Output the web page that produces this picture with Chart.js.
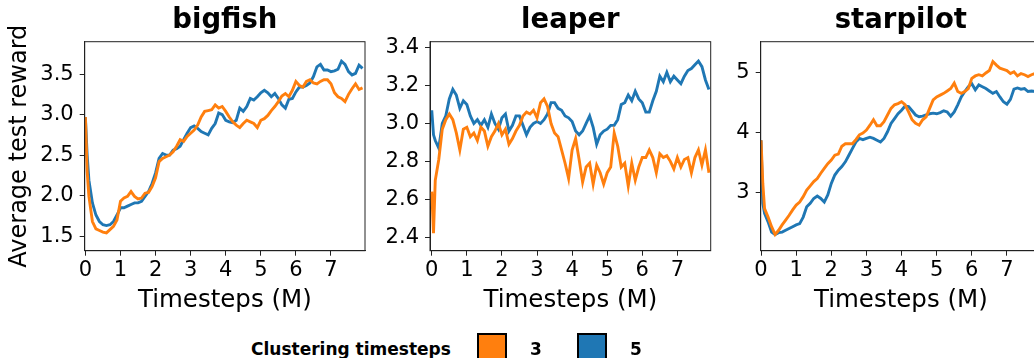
<!DOCTYPE html>
<html>
<head>
<meta charset="utf-8">
<script src="https://cdn.jsdelivr.net/npm/chart.js@4/dist/chart.umd.min.js"></script>
<style>
  html, body { margin: 0; padding: 0; background: #fff; }
  body { width: 1034px; height: 358px; overflow: hidden; position: relative; font-family: 'DejaVu Sans', sans-serif; }
  canvas { position: absolute; top: 0; }
  .legend-title { position: absolute; left: 251px; top: 341px; font-weight: bold; font-size: 17px; line-height: 17px; color: #000; white-space: nowrap; }
  .legend-box { position: absolute; top: 333px; width: 26px; height: 30px; border: 2px solid #000; }
  .legend-label { position: absolute; top: 341px; font-weight: bold; font-size: 17px; line-height: 17px; color: #000; }
</style>
</head>
<body>
<canvas id="bigfish" width="372" height="320" style="left:0px"></canvas>
<canvas id="leaper" width="348" height="320" style="left:370px"></canvas>
<canvas id="starpilot" width="348" height="320" style="left:700px"></canvas>
<div class="legend-title">Clustering timesteps</div>
<div class="legend-box" id="box3" style="left:477px"></div>
<div class="legend-label" style="left:530px">3</div>
<div class="legend-box" id="box5" style="left:577px"></div>
<div class="legend-label" style="left:630px">5</div>

<script>
// Timesteps (M) at which each run was sampled
const steps = [0, 0.05, 0.1, 0.2, 0.3, 0.4, 0.5, 0.6, 0.7, 0.8, 0.9,
  1.0, 1.1, 1.2, 1.3, 1.4, 1.5, 1.6, 1.7, 1.8, 1.9,
  2.0, 2.1, 2.2, 2.3, 2.4, 2.5, 2.6, 2.7, 2.8, 2.9,
  3.0, 3.1, 3.2, 3.3, 3.4, 3.5, 3.6, 3.7, 3.8, 3.9,
  4.0, 4.1, 4.2, 4.3, 4.4, 4.5, 4.6, 4.7, 4.8, 4.9,
  5.0, 5.1, 5.2, 5.3, 5.4, 5.5, 5.6, 5.7, 5.8, 5.9,
  6.0, 6.1, 6.2, 6.3, 6.4, 6.5, 6.6, 6.7, 6.8, 6.9,
  7.0, 7.1, 7.2, 7.3, 7.4, 7.5, 7.6, 7.7, 7.8, 7.9];

const clusterSettings = ['3', '5'];
const seriesColors = ['#ff7f0e', '#1f77b4'];

// bigfish
const bigfish3 = [2.97, 2.30, 1.99, 1.68, 1.59, 1.57, 1.55, 1.54, 1.58, 1.62, 1.70,
  1.93, 1.97, 1.99, 2.05, 1.99, 1.96, 1.97, 2.03, 2.04, 2.11,
  2.22, 2.42, 2.46, 2.48, 2.50, 2.54, 2.61, 2.69, 2.67, 2.73,
  2.77, 2.81, 2.87, 2.97, 3.04, 3.05, 3.06, 3.12, 3.08, 3.10,
  3.04, 2.97, 2.91, 2.87, 2.84, 2.89, 2.93, 2.91, 2.89, 2.84,
  2.93, 2.95, 2.99, 3.05, 3.10, 3.16, 3.23, 3.26, 3.22, 3.30,
  3.41, 3.36, 3.34, 3.41, 3.43, 3.39, 3.38, 3.41, 3.43, 3.43,
  3.38, 3.27, 3.22, 3.20, 3.16, 3.25, 3.32, 3.38, 3.31, 3.33];
const bigfish5 = [2.97, 2.50, 2.19, 1.91, 1.76, 1.68, 1.64, 1.63, 1.64, 1.68, 1.76,
  1.85, 1.85, 1.87, 1.89, 1.91, 1.91, 1.93, 1.99, 2.05, 2.15,
  2.28, 2.46, 2.52, 2.50, 2.50, 2.56, 2.58, 2.61, 2.69, 2.77,
  2.84, 2.86, 2.83, 2.79, 2.77, 2.75, 2.83, 2.89, 3.02, 3.00,
  2.93, 2.91, 2.90, 2.93, 3.08, 3.04, 3.10, 3.20, 3.18, 3.22,
  3.27, 3.30, 3.27, 3.22, 3.26, 3.20, 3.12, 3.08, 3.19, 3.20,
  3.28, 3.34, 3.34, 3.36, 3.39, 3.47, 3.59, 3.62, 3.55, 3.55,
  3.53, 3.54, 3.56, 3.66, 3.62, 3.53, 3.49, 3.51, 3.61, 3.57];

// leaper
const leaper3 = [2.64, 2.42, 2.70, 2.81, 2.97, 3.02, 3.05, 3.02, 2.95, 2.86, 2.97,
  2.98, 2.93, 2.95, 2.91, 2.98, 2.96, 2.88, 2.93, 2.96, 3.00,
  2.94, 2.97, 2.89, 2.92, 2.96, 2.99, 3.04, 3.06, 3.05, 3.07,
  3.03, 3.11, 3.13, 3.09, 3.00, 2.95, 2.93, 2.86, 2.79, 2.71,
  2.86, 2.92, 2.81, 2.69, 2.77, 2.79, 2.68, 2.78, 2.74, 2.68,
  2.74, 2.77, 2.95, 2.88, 2.77, 2.79, 2.67, 2.79, 2.70, 2.77,
  2.82, 2.82, 2.86, 2.82, 2.74, 2.84, 2.82, 2.83, 2.80, 2.76,
  2.82, 2.77, 2.81, 2.82, 2.74, 2.82, 2.86, 2.78, 2.86, 2.74];
const leaper5 = [3.07, 2.94, 2.91, 2.87, 3.00, 3.04, 3.13, 3.18, 3.15, 3.08, 3.12,
  3.10, 3.04, 3.00, 3.02, 2.99, 3.02, 2.98, 3.05, 3.00, 2.97,
  3.03, 3.05, 2.96, 2.99, 3.04, 3.04, 2.99, 2.94, 2.98, 3.00,
  3.01, 3.00, 3.02, 3.05, 3.11, 3.11, 3.08, 3.07, 3.04, 3.03,
  3.01, 2.96, 2.94, 2.96, 3.00, 3.04, 2.98, 2.89, 2.94, 2.96,
  2.97, 2.99, 2.99, 3.02, 3.10, 3.11, 3.15, 3.12, 3.17, 3.13,
  3.11, 3.06, 3.06, 3.12, 3.17, 3.25, 3.22, 3.27, 3.22, 3.25,
  3.23, 3.21, 3.25, 3.28, 3.29, 3.31, 3.33, 3.30, 3.23, 3.18];

// starpilot
const starpilot3 = [3.87, 3.15, 2.73, 2.59, 2.43, 2.30, 2.37, 2.46, 2.54, 2.62, 2.71,
  2.79, 2.84, 2.93, 3.04, 3.11, 3.18, 3.23, 3.32, 3.40, 3.48,
  3.54, 3.62, 3.64, 3.77, 3.81, 3.81, 3.81, 3.88, 3.96, 3.99,
  4.04, 4.12, 4.21, 4.11, 4.11, 4.18, 4.29, 4.40, 4.46, 4.48,
  4.51, 4.46, 4.34, 4.21, 4.15, 4.12, 4.21, 4.26, 4.40, 4.54,
  4.59, 4.62, 4.65, 4.69, 4.73, 4.82, 4.68, 4.65, 4.68, 4.73,
  4.90, 4.94, 4.96, 4.94, 4.99, 5.03, 5.18, 5.12, 5.07, 5.05,
  5.03, 4.98, 5.01, 4.94, 4.98, 4.96, 4.93, 4.96, 4.98, 4.98];
const starpilot5 = [3.87, 2.82, 2.65, 2.51, 2.34, 2.30, 2.33, 2.34, 2.37, 2.40, 2.43,
  2.46, 2.48, 2.59, 2.76, 2.82, 2.90, 2.94, 2.90, 2.84, 2.96,
  3.15, 3.29, 3.37, 3.43, 3.51, 3.62, 3.73, 3.84, 3.90, 3.88,
  3.90, 3.92, 3.90, 3.87, 3.84, 3.90, 4.01, 4.15, 4.23, 4.31,
  4.37, 4.44, 4.43, 4.36, 4.29, 4.26, 4.27, 4.29, 4.31, 4.32,
  4.31, 4.33, 4.36, 4.34, 4.27, 4.34, 4.46, 4.59, 4.68, 4.76,
  4.81, 4.71, 4.79, 4.76, 4.73, 4.69, 4.65, 4.68, 4.59, 4.51,
  4.47, 4.55, 4.72, 4.74, 4.72, 4.73, 4.68, 4.69, 4.68, 4.68];

const xTicks = [0, 1, 2, 3, 4, 5, 6, 7];
const bigfishYTicks = [1.5, 2.0, 2.5, 3.0, 3.5];
const leaperYTicks = [2.4, 2.6, 2.8, 3.0, 3.2, 3.4];
const starpilotYTicks = [3, 4, 5];

const FONT = "'DejaVu Sans', sans-serif";
const INK = '#222';

// draw top/right spines too (matplotlib style box)
const framePlugin = {
  id: 'frame',
  afterDatasetsDraw(chart) {
    const { ctx, chartArea: a } = chart;
    ctx.save();
    ctx.strokeStyle = INK;
    ctx.lineWidth = 1;
    ctx.strokeRect(a.left, a.top, a.right - a.left, a.bottom - a.top);
    ctx.restore();
  }
};

const toPoints = vals => steps.map((x, i) => ({ x: x, y: vals[i] }));

function makePanel(id, opts) {
  const datasets = opts.series.map((vals, i) => ({
    label: clusterSettings[i],
    data: toPoints(vals),
    borderColor: seriesColors[i],
    borderWidth: 2.9,
    pointRadius: 0,
    tension: 0,
    clip: 0
  }));

  return new Chart(document.getElementById(id), {
    type: 'line',
    data: { datasets },
    plugins: [framePlugin],
    options: {
      responsive: false,
      animation: false,
      events: [],
      layout: { padding: { left: 0, right: opts.padRight, top: 0, bottom: 0 } },
      plugins: {
        legend: { display: false },
        tooltip: { enabled: false },
        title: {
          display: true,
          text: opts.title,
          fullSize: false,
          color: '#000',
          font: { family: FONT, size: 27.5, weight: 'bold' },
          padding: { top: 4.2, bottom: 4.5 }
        }
      },
      scales: {
        x: {
          type: 'linear',
          min: opts.xMin,
          max: opts.xMax,
          afterFit: s => { s.height = 69.3; },
          afterBuildTicks: s => { s.ticks = xTicks.map(v => ({ value: v })); },
          ticks: {
            color: '#000',
            font: { family: FONT, size: 21 },
            padding: 2,
            maxRotation: 0,
            autoSkip: false,
            callback: v => String(v)
          },
          grid: { display: true, drawOnChartArea: false, drawTicks: true, tickLength: 5, tickColor: INK },
          border: { display: true, color: INK, width: 1 },
          title: {
            display: true,
            text: 'Timesteps (M)',
            color: '#000',
            font: { family: FONT, size: 24.5 },
            padding: { top: 0, bottom: 5 }
          }
        },
        y: {
          type: 'linear',
          min: opts.yMin,
          max: opts.yMax,
          afterFit: s => { s.width = opts.yWidth; },
          afterBuildTicks: s => { s.ticks = opts.yTicks.map(v => ({ value: v })); },
          ticks: {
            color: '#000',
            font: { family: FONT, size: 21 },
            padding: 6,
            autoSkip: false,
            callback: v => v.toFixed(opts.decimals)
          },
          grid: { display: true, drawOnChartArea: false, drawTicks: true, tickLength: 5, tickColor: INK },
          border: { display: true, color: INK, width: 1 },
          title: {
            display: !!opts.yTitle,
            text: opts.yTitle || '',
            color: '#000',
            font: { family: FONT, size: 24 },
            padding: { top: 5, bottom: 0 }
          }
        }
      }
    }
  });
}

makePanel('bigfish', {
  title: 'bigfish', series: [bigfish3, bigfish5],
  xMin: -0.02, xMax: 7.97, yMin: 1.32, yMax: 3.90, yTicks: bigfishYTicks, decimals: 1,
  yTitle: 'Average test reward', yWidth: 84.7, padRight: 7
});
makePanel('leaper', {
  title: 'leaper', series: [leaper3, leaper5],
  xMin: -0.05, xMax: 7.95, yMin: 2.328, yMax: 3.432, yTicks: leaperYTicks, decimals: 1,
  yWidth: 60, padRight: 7.3
});
makePanel('starpilot', {
  title: 'starpilot', series: [starpilot3, starpilot5],
  xMin: -0.01, xMax: 7.97, yMin: 2.03, yMax: 5.51, yTicks: starpilotYTicks, decimals: 0,
  yWidth: 60.7, padRight: 7
});

document.getElementById('box3').style.background = seriesColors[0];
document.getElementById('box5').style.background = seriesColors[1];
</script>
</body>
</html>
